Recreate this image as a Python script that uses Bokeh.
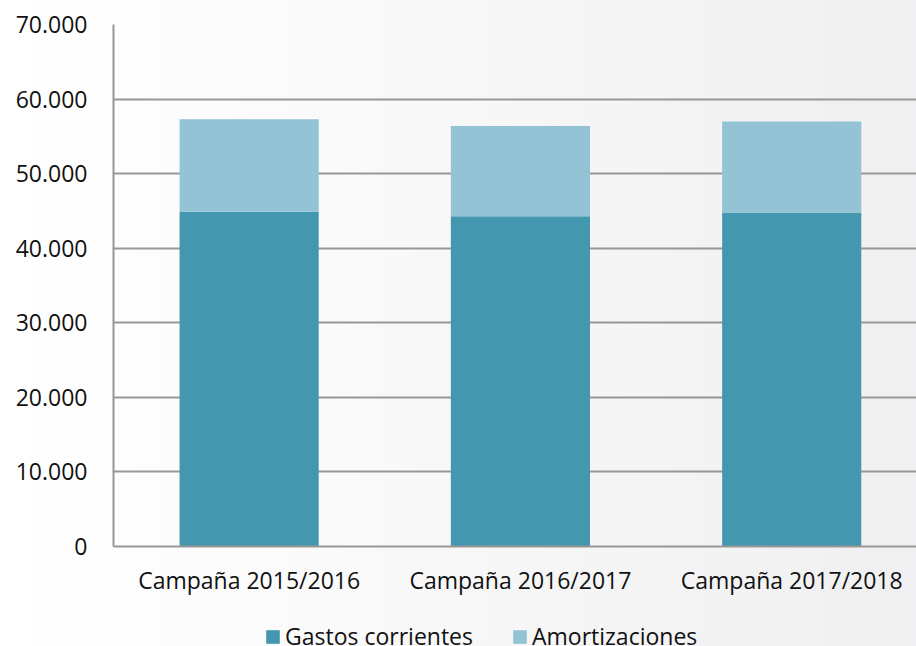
from bokeh.plotting import figure
from bokeh.layouts import column
from bokeh.models import Range1d, FixedTicker, Legend, LegendItem, ColumnDataSource
from bokeh.embed import file_html
from bokeh.resources import INLINE

categories = ["Campaña 2015/2016", "Campaña 2016/2017", "Campaña 2017/2018"]
gastos = [44900, 44300, 44800]
amortizaciones = [12400, 12100, 12200]
y_ticks = [0, 10000, 20000, 30000, 40000, 50000, 60000, 70000]
y_labels = ["0", "10.000", "20.000", "30.000", "40.000", "50.000", "60.000", "70.000"]
series = ["Gastos corrientes", "Amortizaciones"]
colors = ["#4398AF", "#93C3D5"]

bg = "linear-gradient(to right, #ffffff 0%, #fefefe 8%, #fbfbfb 30%, #f5f5f6 65%, #f0f0f2 100%)"

xs = list(range(len(categories)))
source = ColumnDataSource(dict(
    x=xs,
    g=gastos,
    top=[g + a for g, a in zip(gastos, amortizaciones)],
))

p = figure(width=916, height=606, output_backend="svg", toolbar_location=None,
           x_range=Range1d(-0.5, 2.460), y_range=Range1d(0, 70000),
           min_border_left=113, min_border_right=0, min_border_top=24, min_border_bottom=60)
p.styles = {"background": bg}
p.background_fill_color = None
p.border_fill_color = None
p.outline_line_color = None

p.vbar(x="x", bottom=0, top="g", width=0.513, source=source,
       fill_color=colors[0], line_color=None)
p.vbar(x="x", bottom="g", top="top", width=0.513, source=source,
       fill_color=colors[1], line_color=None)

grid_color = "#979797"
p.xgrid.grid_line_color = None
p.ygrid.grid_line_color = grid_color
p.ygrid.grid_line_width = 2
p.ygrid.ticker = FixedTicker(ticks=y_ticks)

p.yaxis.ticker = FixedTicker(ticks=y_ticks)
p.yaxis.major_label_overrides = {t: l for t, l in zip(y_ticks, y_labels)}
p.xaxis.ticker = FixedTicker(ticks=xs)
p.xaxis.major_label_overrides = {x: c for x, c in zip(xs, categories)}

for ax in (p.xaxis, p.yaxis):
    ax.axis_line_color = grid_color
    ax.axis_line_width = 2
    ax.major_tick_line_color = None
    ax.minor_tick_line_color = None
    ax.major_tick_out = 0
    ax.major_tick_in = 0
    ax.major_label_text_font = "Open Sans"
    ax.major_label_text_font_size = "23px"
    ax.major_label_text_color = "#111111"
p.yaxis.major_label_standoff = 26
p.xaxis.major_label_standoff = 17

# legend strip (its frame is aligned with the chart frame by the column layout)
q = figure(width=916, height=40, output_backend="svg", toolbar_location=None,
           x_range=Range1d(0, 1), y_range=Range1d(0, 1),
           min_border_left=0, min_border_right=0, min_border_top=0, min_border_bottom=0)
q.styles = {"background": bg}
q.background_fill_color = None
q.border_fill_color = None
q.outline_line_color = None
q.axis.visible = False
q.grid.visible = False
dummy = ColumnDataSource(dict(x=[0.5], top=[0]))
d1 = q.vbar(x="x", top="top", bottom=0, width=0.01, source=dummy,
            fill_color=colors[0], line_color=None)
d2 = q.vbar(x="x", top="top", bottom=0, width=0.01, source=dummy,
            fill_color=colors[1], line_color=None)

legend = Legend(items=[LegendItem(label=series[0], renderers=[d1]),
                       LegendItem(label=series[1], renderers=[d2])],
                orientation="horizontal", location=(151, -6),
                glyph_width=17, glyph_height=17, label_standoff=4, spacing=38,
                padding=0, margin=0, border_line_color=None, background_fill_alpha=0,
                label_text_font="Open Sans", label_text_font_size="23px",
                label_text_color="#111111")
q.add_layout(legend, "center")

layout = column(p, q, spacing=0)
open("out.html", "w").write(file_html(layout, INLINE))
